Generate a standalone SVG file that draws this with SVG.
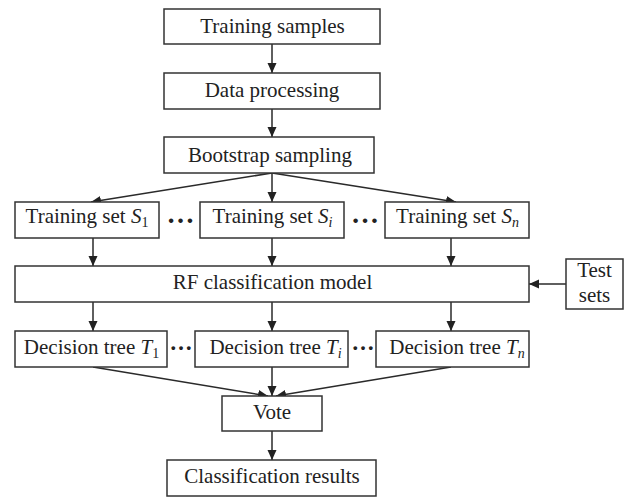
<svg xmlns="http://www.w3.org/2000/svg" width="625" height="497" viewBox="0 0 625 497">
  <style>
    .box { fill: #fff; stroke: #333; stroke-width: 1.5; }
    .lbl { font-family: "Liberation Serif", "Times New Roman", serif; font-size: 21px; fill: #222; text-anchor: middle; }
    .it { font-style: italic; }
    .sub { font-size: 14px; }
    .dots { font-family: "Liberation Serif", "Times New Roman", serif; font-weight: bold; fill: #222; text-anchor: middle; }
    .conn { stroke: #2a2a2a; stroke-width: 1.5; fill: none; marker-end: url(#arrow); }
  </style>
  <defs>
    <marker id="arrow" viewBox="0 0 10 10" refX="10" refY="5" markerWidth="10" markerHeight="10" markerUnits="userSpaceOnUse" orient="auto">
      <path d="M0,0.5 L10,5 L0,9.5 Z" fill="#222"/>
    </marker>
  </defs>
  <rect width="625" height="497" fill="#fff"/>

  <g id="connectors">
    <line class="conn" x1="272" y1="44" x2="272" y2="73"/>
    <line class="conn" x1="272" y1="109" x2="272" y2="137"/>
    <line class="conn" x1="272" y1="173" x2="91" y2="202"/>
    <line class="conn" x1="272" y1="173" x2="272" y2="202"/>
    <line class="conn" x1="272" y1="173" x2="456" y2="202"/>
    <line class="conn" x1="93" y1="238" x2="93" y2="266"/>
    <line class="conn" x1="272" y1="238" x2="272" y2="266"/>
    <line class="conn" x1="451" y1="238" x2="451" y2="266"/>
    <line class="conn" x1="566" y1="284" x2="529" y2="284"/>
    <line class="conn" x1="93" y1="302" x2="93" y2="331"/>
    <line class="conn" x1="272" y1="302" x2="272" y2="331"/>
    <line class="conn" x1="451" y1="302" x2="451" y2="331"/>
    <line class="conn" x1="93" y1="367" x2="268" y2="396"/>
    <line class="conn" x1="272" y1="367" x2="272" y2="396"/>
    <line class="conn" x1="451" y1="367" x2="276" y2="396"/>
    <line class="conn" x1="272" y1="431" x2="272" y2="460"/>
  </g>

  <g id="training-samples">
    <rect class="box" x="164" y="9" width="216" height="35"/>
    <text class="lbl" x="272.5" y="32.5">Training samples</text>
  </g>
  <g id="data-processing">
    <rect class="box" x="164" y="73" width="216" height="36"/>
    <text class="lbl" x="272" y="96.5">Data processing</text>
  </g>
  <g id="bootstrap-sampling">
    <rect class="box" x="164" y="137" width="210" height="36"/>
    <text class="lbl" x="270" y="161.5">Bootstrap sampling</text>
  </g>

  <g id="training-set-1">
    <rect class="box" x="15" y="202" width="144" height="36"/>
    <text class="lbl" x="87" y="222.5">Training set <tspan class="it">S</tspan><tspan class="sub" dy="4">1</tspan></text>
  </g>
  <text class="dots" x="180.5" y="222.5" font-size="28">…</text>
  <g id="training-set-i">
    <rect class="box" x="200" y="202" width="144" height="36"/>
    <text class="lbl" x="272.5" y="222.5">Training set <tspan class="it">S</tspan><tspan class="sub it" dy="4">i</tspan></text>
  </g>
  <text class="dots" x="365" y="222.5" font-size="28">…</text>
  <g id="training-set-n">
    <rect class="box" x="385" y="202" width="144" height="36"/>
    <text class="lbl" x="457.5" y="222.5">Training set <tspan class="it">S</tspan><tspan class="sub it" dy="4">n</tspan></text>
  </g>

  <g id="rf-model">
    <rect class="box" x="15" y="266" width="514" height="36"/>
    <text class="lbl" x="272.5" y="288.5">RF classification model</text>
  </g>
  <g id="test-sets">
    <rect class="box" x="566" y="259" width="57" height="50"/>
    <text class="lbl" x="594.5" y="277">Test</text>
    <text class="lbl" x="594.5" y="301.5">sets</text>
  </g>

  <g id="decision-tree-1">
    <rect class="box" x="15" y="331" width="152" height="36"/>
    <text class="lbl" x="91.5" y="354">Decision tree <tspan class="it">T</tspan><tspan class="sub" dy="4">1</tspan></text>
  </g>
  <text class="dots" x="181" y="350" font-size="23">…</text>
  <g id="decision-tree-i">
    <rect class="box" x="195" y="331" width="153" height="36"/>
    <text class="lbl" x="275.5" y="354">Decision tree <tspan class="it">T</tspan><tspan class="sub it" dy="4">i</tspan></text>
  </g>
  <text class="dots" x="363" y="350" font-size="23">…</text>
  <g id="decision-tree-n">
    <rect class="box" x="376" y="331" width="153" height="36"/>
    <text class="lbl" x="457" y="354">Decision tree <tspan class="it">T</tspan><tspan class="sub it" dy="4">n</tspan></text>
  </g>

  <g id="vote">
    <rect class="box" x="222" y="396" width="100" height="35"/>
    <text class="lbl" x="272" y="418.5">Vote</text>
  </g>
  <g id="classification-results">
    <rect class="box" x="167" y="460" width="209" height="36"/>
    <text class="lbl" x="272" y="482.5">Classification results</text>
  </g>
</svg>
